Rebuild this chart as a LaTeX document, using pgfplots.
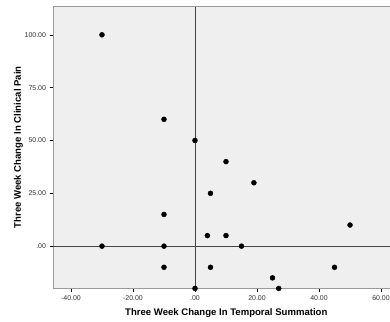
\documentclass[border=0pt]{standalone}
\usepackage{pgfplots}
\pgfplotsset{compat=1.18}
\usepackage{fontspec}
\setmainfont{Liberation Sans}
\definecolor{plotbg}{HTML}{EFEFEF}
\definecolor{framec}{HTML}{9A9A9A}
\definecolor{refc}{HTML}{444444}
\definecolor{tickc}{HTML}{333333}
\begin{document}
\begin{tikzpicture}[x=1bp,y=1bp]
\begin{axis}[
  at={(53bp,34bp)}, anchor=south west,
  scale only axis,
  width=346.6bp, height=281.3bp,
  xmin=-45.8, xmax=66, ymin=-19.8, ymax=113.3,
  axis background/.style={fill=plotbg},
  axis line style={framec, line width=0.8pt},
  xtick={-40,-20,0,20,40,60},
  xticklabels={-40.00,-20.00,.00,20.00,40.00,60.00},
  ytick={0,25,50,75,100},
  yticklabels={.00,25.00,50.00,75.00,100.00},
  tick pos=left,
  tick align=outside,
  major tick length=3.5bp,
  tick style={black, line width=0.5pt},
  tick label style={font=\fontsize{7}{8}\selectfont, text=tickc},
  xticklabel style={yshift=-1bp},
  xlabel={\textbf{Three Week Change In Temporal Summation}},
  ylabel={\textbf{Three Week Change In Clinical Pain}},
  label style={font=\fontsize{9.6}{11}\selectfont},
  xlabel style={yshift=-1bp},
  ylabel style={yshift=-5bp},
  clip=false,
]
\draw[refc, line width=0.8pt] (axis cs:0,-19.8) -- (axis cs:0,113.3);
\draw[refc, line width=0.8pt] (axis cs:-45.8,0) -- (axis cs:66,0);
\addplot[only marks, mark=*, mark size=2.5bp, mark options={fill=black, draw=black}] coordinates {
(-30,100) (-10,60) (0,50) (-10,15) (-30,0) (-10,0) (-10,-10) (0,-20)
(10,40) (19,30) (5,25) (4,5) (10,5) (15,0) (5,-10) (25,-15) (27,-20)
(45,-10) (50,10)
};
\end{axis}
\pgfresetboundingbox
\useasboundingbox (0,0) rectangle (390bp,322bp);
\end{tikzpicture}
\end{document}
